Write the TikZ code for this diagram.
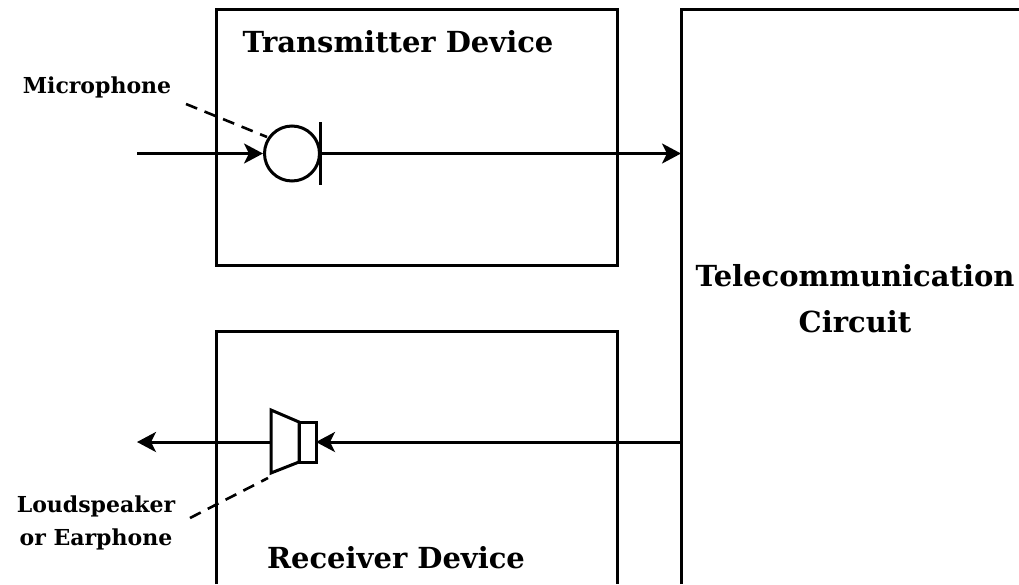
\documentclass[tikz,border=0pt]{standalone}
\usepackage{fontspec}
\setmainfont{DejaVu Serif}
\usetikzlibrary{arrows.meta}
\tikzset{
 px/.style={x=1pt,y=-1pt},
 boxx/.style={draw=black,line width=3pt},
 wire/.style={draw=black,line width=3pt,-{Stealth[length=19pt,width=20pt,inset=5pt]}},
 lead/.style={draw=black,line width=2.6pt,dash pattern=on 12pt off 8pt},
 shp/.style={draw=black,line width=3pt},
 ttl/.style={font=\bfseries\fontsize{29}{46}\selectfont,align=center,inner sep=0pt},
 lbl/.style={font=\bfseries\fontsize{22}{33}\selectfont,align=center,inner sep=0pt},
}
\begin{document}
\begin{tikzpicture}[px]
\useasboundingbox (0,0) rectangle (1019,584);
\draw[boxx] (216,9) rectangle (617,265);
\draw[boxx] (216,584) -- (216,331) -- (617,331) -- (617,584);
\draw[boxx] (681,584) -- (681,9) -- (1019,9);
\node[ttl] (tx) at (398,42) {Transmitter Device};
\node[ttl] (rx) at (396,558) {Receiver Device};
\node[ttl] (tc) at (855,299) {Telecommunication\\Circuit};
\node[lbl] (mic) at (97,87) {Microphone};
\node[lbl] (spk) at (96,523) {Loudspeaker\\or Earphone};
\node[circle,draw=black,line width=3pt,minimum size=55pt,inner sep=0pt] (mc) at (292,153.5) {};
\coordinate (bart) at (320,122);
\coordinate (barb) at (320,185);
\draw[shp] (bart) -- (barb);
\coordinate (in) at (137,153.5);
\coordinate (micout) at (320,153.5);
\coordinate (tcin) at (681,153.5);
\coordinate (tcout) at (681,442);
\coordinate (out) at (137,442);
\draw[wire] (in) -- (mc.west);
\draw[wire] (micout) -- (tcin);
\coordinate (m1) at (186,104);
\coordinate (m2) at (267,137);
\draw[lead] (m1) -- (m2);
\coordinate (s1) at (271,410);
\coordinate (s2) at (299,422);
\coordinate (s3) at (299,462);
\coordinate (s4) at (271,473);
\coordinate (s5) at (316,462);
\draw[shp] (s1) -- (s2) -- (s3) -- (s4) -- cycle;
\draw[shp] (s2) rectangle (s5);
\draw[wire] (tcout) -- (316,442);
\draw[wire] (271,442) -- (out);
\coordinate (l1) at (190,518);
\coordinate (l2) at (268,478);
\draw[lead] (l1) -- (l2);
\end{tikzpicture}
\end{document}
